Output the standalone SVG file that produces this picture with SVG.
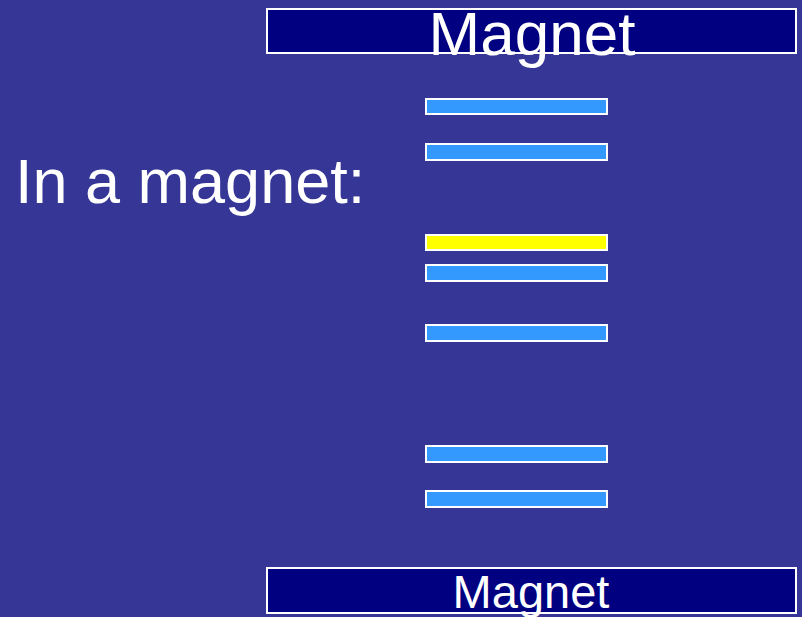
<svg xmlns="http://www.w3.org/2000/svg" width="802" height="617" viewBox="0 0 802 617">
<style>
.bg{fill:#363696}
.mag{fill:#000080;stroke:#ffffff;stroke-width:2}
.bar{fill:#3399ff;stroke:#ffffff;stroke-width:2}
.hl{fill:#ffff00;stroke:#ffffff;stroke-width:2}
.t{font-family:"Liberation Sans",Arial,sans-serif;fill:#ffffff}
</style>
<rect class="bg" x="0" y="0" width="802" height="617"/>
<g id="magnet-top">
<rect class="mag" x="267" y="9" width="529" height="44"/>
<text class="t" x="532" y="55" font-size="62" text-anchor="middle">Magnet</text>
</g>
<g id="magnet-bottom">
<rect class="mag" x="267" y="568" width="529" height="45"/>
<text class="t" x="531" y="608" font-size="47" text-anchor="middle">Magnet</text>
</g>
<g id="label">
<text class="t" x="15" y="203" font-size="63">In a magnet:</text>
</g>
<g id="levels">
<rect class="bar" x="426" y="99" width="181" height="15"/>
<rect class="bar" x="426" y="144" width="181" height="16"/>
<rect class="hl" x="426" y="235" width="181" height="15"/>
<rect class="bar" x="426" y="265" width="181" height="16"/>
<rect class="bar" x="426" y="325" width="181" height="16"/>
<rect class="bar" x="426" y="446" width="181" height="16"/>
<rect class="bar" x="426" y="491" width="181" height="16"/>
</g>
<g id="connectors"></g>
</svg>
